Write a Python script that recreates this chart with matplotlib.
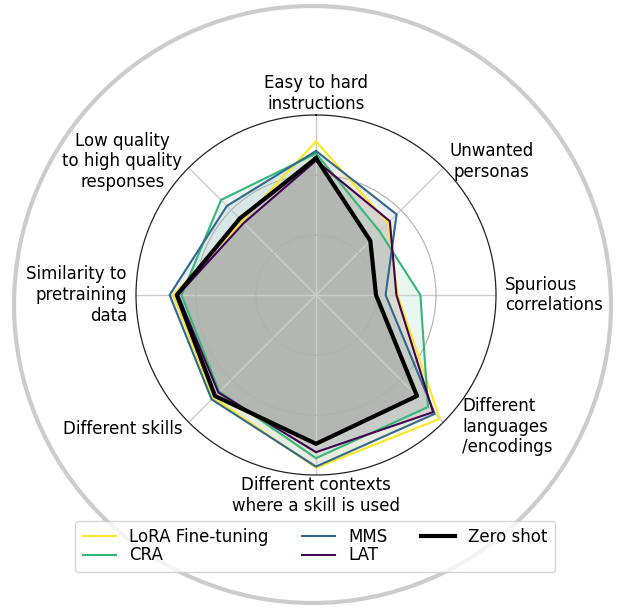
import numpy as np
import matplotlib
matplotlib.use('Agg')
import matplotlib.pyplot as plt
from matplotlib.patches import Ellipse

categories = ['Easy to hard\ninstructions', 'Unwanted\npersonas', 'Spurious\ncorrelations',
              'Different\nlanguages\n/encodings', 'Different contexts\nwhere a skill is used',
              'Different skills', 'Similarity to\npretraining\ndata',
              'Low quality\nto high quality\nresponses']

methods = ['LoRA Fine-tuning', 'CRA', 'MMS', 'LAT', 'Zero shot']
lora = [1.28, 0.85, 0.68, 1.46, 1.44, 1.21, 1.19, 0.87]
cra = [1.18, 0.75, 0.87, 1.32, 1.36, 1.14, 1.12, 1.12]
mms = [1.20, 0.95, 0.58, 1.40, 1.43, 1.23, 1.22, 1.05]
lat = [1.12, 0.87, 0.67, 1.38, 1.31, 1.15, 1.15, 0.85]
zero_shot = [1.14, 0.64, 0.50, 1.19, 1.24, 1.19, 1.16, 0.90]

colors = ['#fde725', '#35b779', '#31688e', '#440154', 'black']
series = [lora, cra, mms, lat, zero_shot]

n = len(categories)
angles = np.linspace(0, 2 * np.pi, n, endpoint=False)
angles_closed = np.concatenate([angles, angles[:1]])

fig = plt.figure(figsize=(6.19, 6.09), dpi=100)

# big grey ring behind everything
ring = Ellipse((312.5 / 619, 0.5), width=597 / 619, height=597 / 609,
               transform=fig.transFigure, fill=False, ec='#cccccc', lw=3, zorder=0)
fig.add_artist(ring)

ax = fig.add_axes([136 / 619, (609 - 475) / 609, 360 / 619, 360 / 609], projection='polar')
ax.set_theta_offset(np.pi / 2)
ax.set_theta_direction(-1)
ax.set_ylim(0, 1.5)
ax.set_yticks([0.5, 1.0])
ax.set_yticklabels([])
ax.set_xticks(angles)
ax.set_xticklabels([])
ax.tick_params(axis='both', length=0)
ax.yaxis.grid(True, color='#b0b0b0', lw=0.8)
ax.xaxis.grid(True, color='#cccccc', lw=1.0)
ax.spines['polar'].set_color('#222222')
ax.spines['polar'].set_linewidth(0.9)

for name, vals, c in zip(methods, series, colors):
    v = np.concatenate([vals, vals[:1]])
    lw = 3 if name == 'Zero shot' else 1.5
    ax.plot(angles_closed, v, color=c, lw=lw, label=name, zorder=3 if name == 'Zero shot' else 2)
    ax.fill(angles_closed, v, color=c, alpha=0.1)

# category labels placed by hand around the rim
label_pos = [
    (0.0, 1.517, 'center', 'bottom', 'center'),
    (np.pi / 4, 1.573, 'left', 'center', 'center'),
    (np.pi / 2, 1.575, 'left', 'center', 'left'),
    (np.deg2rad(132), 1.64, 'left', 'center', 'left'),
    (np.pi, 1.51, 'center', 'top', 'center'),
    (5 * np.pi / 4, 1.575, 'right', 'center', 'right'),
    (3 * np.pi / 2, 1.575, 'right', 'center', 'right'),
    (7 * np.pi / 4, 1.575, 'right', 'center', 'center'),
]
for lab, (th, r, ha, va, ma) in zip(categories, label_pos):
    ax.text(th, r, lab, ha=ha, va=va, multialignment=ma, fontsize=12)

fig.legend(loc='lower center', bbox_to_anchor=(0.509, 1 - 572 / 609), ncol=3, fontsize=12,
           labelspacing=0.02, borderpad=0.45, columnspacing=2.0, borderaxespad=0)

fig.savefig('out.png', dpi=100)
